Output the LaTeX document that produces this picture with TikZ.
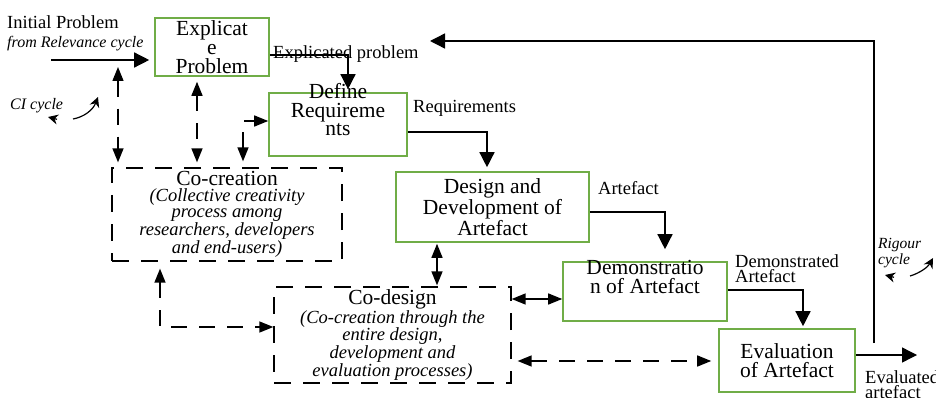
\documentclass[tikz,border=0pt]{standalone}
\usepackage{fontspec}
\setmainfont{Liberation Serif}
\usetikzlibrary{arrows.meta}
\definecolor{boxgreen}{RGB}{112,173,71}

\begin{document}
\begin{tikzpicture}[x=1pt,y=-1pt,
	gbox/.style={draw=boxgreen, line width=1.6pt, inner sep=0pt, align=center, font=\fontsize{21.5}{19}\selectfont},
	btext/.style={inner sep=0pt, align=center, font=\fontsize{21.5}{18.5}\selectfont},
	dbox/.style={draw, line width=1.3pt, dash pattern=on 17pt off 12pt, inner sep=0pt, align=center, font=\fontsize{18.5}{16}\selectfont\itshape},
	lbl/.style={inner sep=0pt, align=left, font=\fontsize{18.5}{15.5}\selectfont},
	flow/.style={line width=1.4pt, -{Triangle[length=15pt,width=15pt]}},
	dflow/.style={line width=1.4pt, dash pattern=on 16pt off 12pt, {Triangle[length=14pt,width=11pt]}-{Triangle[length=14pt,width=11pt]}},
	bflow/.style={line width=1.4pt, {Triangle[length=14pt,width=11pt]}-{Triangle[length=14pt,width=11pt]}},
	cyc/.style={line width=1.2pt, -{Stealth[length=10pt,width=10pt]}}]
	\useasboundingbox (0,0) rectangle (936,398);
	
	% process boxes
	\node[gbox, minimum width=114pt, minimum height=58pt] (EP) at (212,47) {Explicat\\e\\Problem};
		\node[gbox, minimum width=138pt, minimum height=63pt] (DR) at (338,124.5) {};
		\node[btext] (DRtext) at (338,110) {Define\\Requireme\\nts};
			\node[gbox, minimum width=193pt, minimum height=70pt] (DD) at (492.5,207) {Design and\\Development of\\Artefact};
				\node[gbox, minimum width=164pt, minimum height=59pt] (DA) at (645,291.5) {};
				\node[btext] (DAtext) at (645,277) {Demonstratio\\n of Artefact};
					\node[gbox, minimum width=136pt, minimum height=63pt] (EA) at (787,360.5) {Evaluation\\of Artefact};
	
	% co-creation and co-design
	\node[dbox, minimum width=230pt, minimum height=93pt] (CC) at (227,214.5) {{\upshape\fontsize{21.5}{16}\selectfont Co-creation}\\(Collective creativity\\process among\\researchers, developers\\and end-users)};
	\node[dbox, minimum width=237pt, minimum height=96pt] (CD) at (392.5,335) {{\upshape\fontsize{21.5}{16}\selectfont Co-design}\\(Co-creation through the\\entire design,\\development and\\evaluation processes)};
	
	% labels
	\node[lbl, anchor=base west] (IPlbl) at (7,29) {Initial Problem};
	\node[lbl, anchor=base west, font=\fontsize{16}{16}\selectfont\itshape] (RClbl) at (7,48) {from Relevance cycle};
	\node[lbl, anchor=base west] (EPlbl) at (273,59) {Explicated problem};
	\node[lbl, anchor=base west] (DRlbl) at (413,113) {Requirements};
	\node[lbl, anchor=base west] (DDlbl) at (598,194) {Artefact};
	\node[lbl, anchor=north west] (DAlbl) at (735,254.4) {Demonstrated\\Artefact};
	\node[lbl, anchor=north west] (EAlbl) at (865,370.4) {Evaluated\\artefact};
	\node[lbl, anchor=base west, font=\fontsize{16}{16}\selectfont\itshape] (CIlbl) at (10,110) {CI cycle};
	\node[lbl, anchor=north west, font=\fontsize{15.5}{14}\selectfont\itshape] (RGlbl) at (878,238.5) {Rigour\\cycle};
	
	% main flow
	\coordinate (ip) at (51,60);
	\draw[flow, shorten >=5pt] (ip) -- (ip -| EP.west);
	\draw[flow, shorten >=3pt] ([yshift=-8pt]EP.east) -| ([xshift=10pt]DR.north);
	\draw[flow, shorten >=4pt] ([yshift=-7.5pt]DR.east) -| ([xshift=-5.5pt]DD.north);
	\draw[flow] ([yshift=-5pt]DD.east) -| ([xshift=20pt,yshift=12pt]DA.north);
	\draw[flow, shorten >=2pt] ([yshift=1.5pt]DA.east) -| ([xshift=16pt]EA.north);
	\coordinate (out) at (917,355);
	\draw[flow] ([yshift=5.5pt]EA.east) -- (out);
	\coordinate (rg) at (874,343);
	\coordinate (fb) at (430,41);
	\draw[flow] (rg) |- (fb);
	
	% co-creation / co-design links
	\coordinate (ci) at (118,67);
	\draw[dflow, shorten >=5pt] (ci) -- (ci |- CC.north);
	\draw[dflow, shorten <=5pt, shorten >=5pt] ([xshift=-15pt]EP.south) -- ([xshift=-30pt]CC.north);
	\draw[dflow, shorten <=6pt] ([xshift=16pt]CC.north) |- ([yshift=3.5pt]DR.west);
	\draw[dflow, shorten <=7pt] ([xshift=-67pt]CC.south) |- ([yshift=8pt]CD.west);
	\draw[bflow, shorten <=1pt, shorten >=1pt] ([xshift=-55.5pt]DD.south) -- ([xshift=44.5pt]CD.north);
	\draw[bflow] ([yshift=36pt]CD.east) -- ([yshift=-7.5pt]DA.west);
	\draw[dflow, shorten <=6pt, shorten >=7pt] ([yshift=-26pt]CD.east) -- ([yshift=-0.5pt]EA.west);
	
	% cycle marks
	\draw[cyc] (57,119.3) -- (48,117);
	\draw[cyc] (73,119) .. controls (84,117) and (93,110) .. (98,97);
	\draw[cyc] (894,277.3) -- (885,275);
	\draw[cyc] (910,276) .. controls (920,273) and (928,267) .. (933,258);
\end{tikzpicture}
\end{document}
